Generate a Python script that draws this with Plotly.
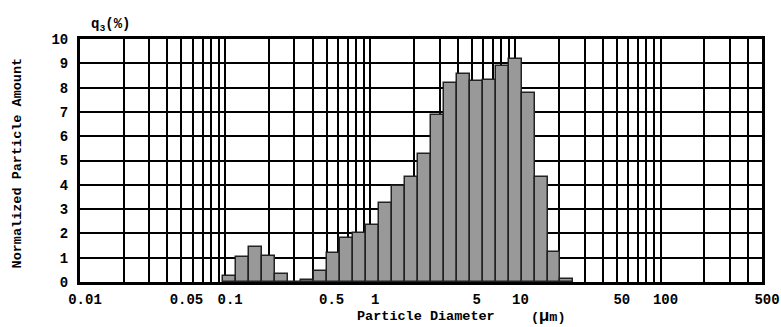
import plotly.graph_objects as go

# Size classes (µm): lower and upper bin edges on a log scale
bin_edges = [0.0969, 0.1190, 0.1462, 0.1796, 0.2207, 0.2711, 0.3331, 0.4093,
             0.5028, 0.6177, 0.7590, 0.9324, 1.1455, 1.4073, 1.7290, 2.1242,
             2.6097, 3.2063, 3.9391, 4.8395, 5.9457, 7.3048, 8.9743, 11.026,
             13.545, 16.642, 20.445, 25.119]

# q3 (%) for each size class
q3_values = [0.25, 1.02, 1.46, 1.05, 0.33, 0.0, 0.08, 0.46, 1.20, 1.80,
             2.02, 2.35, 3.27, 3.95, 4.33, 5.25, 6.86, 8.20, 8.58, 8.28,
             8.30, 8.90, 9.18, 7.77, 4.32, 1.23, 0.11]

# Labelled diameters on the x axis
x_labels = [0.01, 0.05, 0.1, 0.5, 1, 5, 10, 50, 100, 500]
x_label_text = ["0.01", "0.05", "0.1", "0.5", "1", "5", "10", "50", "100", "500"]

FONT = "Liberation Mono"

lows = bin_edges[:-1]
highs = bin_edges[1:]
centers = [(a + b) / 2 for a, b in zip(lows, highs)]
widths = [b - a for a, b in zip(lows, highs)]

# Unlabelled grid positions: 1..9 in every decade up to 500
minor_vals = []
for exp in range(-2, 3):
    for m in range(1, 10):
        v = round(m * 10 ** exp, 6)
        if v <= 500 and not any(abs(v - l) < 1e-9 for l in x_labels):
            minor_vals.append(v)

fig = go.Figure()
fig.add_trace(go.Bar(
    x=centers,
    y=q3_values,
    width=widths,
    marker=dict(color="#999999", line=dict(color="#222222", width=1.5)),
    hoverinfo="x+y",
))

fig.update_layout(
    width=781,
    height=327,
    margin=dict(l=80, r=19, t=39, b=45),
    plot_bgcolor="white",
    paper_bgcolor="white",
    showlegend=False,
    bargap=0,
    xaxis=dict(
        type="log",
        range=[-2, 2.69897],
        tickmode="array",
        tickvals=x_labels,
        ticktext=x_label_text,
        tickangle=0,
        ticks="",
        showgrid=True,
        gridcolor="black",
        gridwidth=1.5,
        minor=dict(tickmode="array", tickvals=minor_vals, ticks="",
                   showgrid=True, gridcolor="black", gridwidth=1.5),
        showline=True,
        linecolor="black",
        linewidth=3,
        mirror=True,
        zeroline=False,
        automargin=False,
        tickfont=dict(family=FONT, size=14, color="black", weight="bold"),
        ticklabelshift=5,
        ticklabelstandoff=2,
    ),
    yaxis=dict(
        range=[0, 10],
        tickmode="linear",
        tick0=0,
        dtick=1,
        ticks="",
        showgrid=True,
        gridcolor="black",
        gridwidth=2,
        showline=True,
        linecolor="black",
        linewidth=3,
        mirror=True,
        zeroline=False,
        automargin=False,
        tickfont=dict(family=FONT, size=14, color="black", weight="bold"),
        ticklabelstandoff=6,
    ),
    annotations=[
        dict(text="q<sub>3</sub>(%)", xref="paper", yref="paper", x=0.0132, y=1.058,
             xanchor="left", yanchor="middle", showarrow=False,
             font=dict(family=FONT, size=14, color="black", weight="bold")),
        dict(text="Particle Diameter", xref="paper", yref="paper", x=0.403, y=-0.144,
             xanchor="left", yanchor="middle", showarrow=False,
             font=dict(family=FONT, size=13.5, color="black", weight="bold")),
        dict(text="(<span style='font-size:17px'>\u03bc</span>m)", xref="paper", yref="paper",
             x=0.659, y=-0.144, xanchor="left", yanchor="middle", showarrow=False,
             font=dict(family=FONT, size=13.5, color="black", weight="bold")),
        dict(text="Normalized Particle Amount", xref="paper", yref="paper", x=-0.0916, y=0.49,
             xanchor="center", yanchor="middle", textangle=-90, showarrow=False,
             font=dict(family=FONT, size=13.5, color="black", weight="bold")),
    ],
)

fig.write_html("out.html")
